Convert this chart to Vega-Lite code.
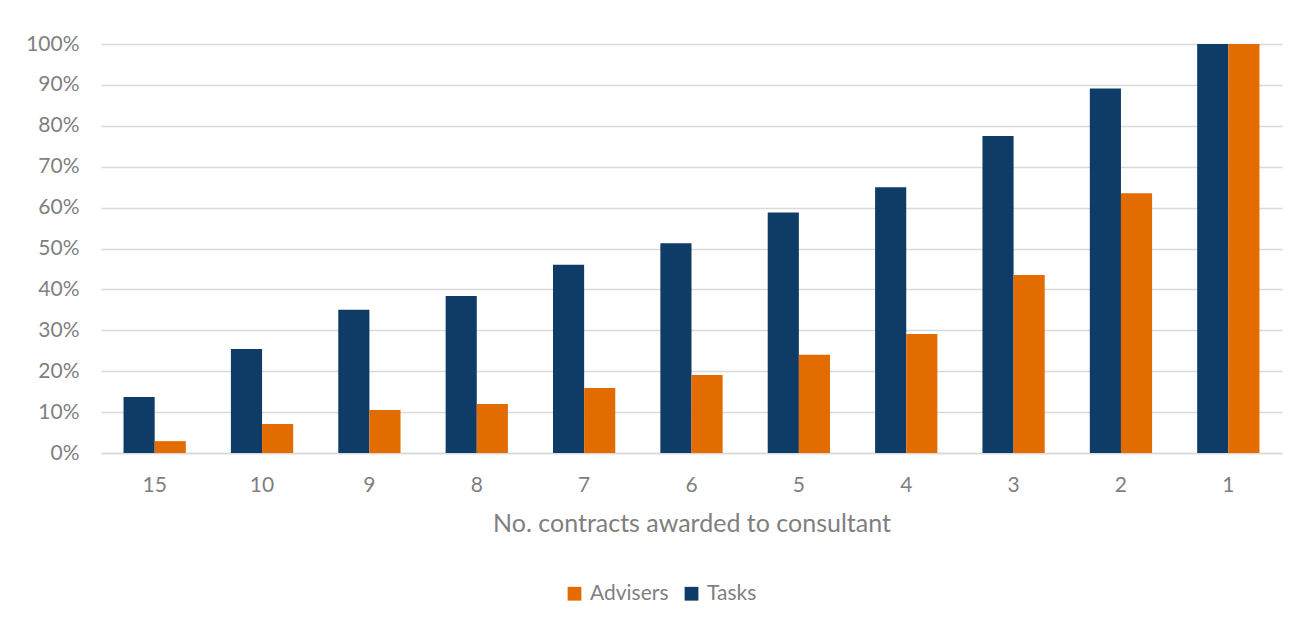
{
  "$schema": "https://vega.github.io/schema/vega-lite/v6.json",
  "width": 1181,
  "height": 409,
  "autosize": {"type": "none"},
  "padding": {"left": 101, "top": 44, "right": 16, "bottom": 172},
  "background": "white",
  "config": {
    "view": {"stroke": null},
    "font": "Lato",
    "axis": {"labelFont": "Lato", "titleFont": "Lato", "labelColor": "#7F7F7F", "titleColor": "#7F7F7F"},
    "legend": {"labelFont": "Lato", "labelColor": "#7F7F7F"}
  },
  "data": {
    "values": [
      {"contracts": "15", "series": "Tasks", "share": 0.137},
      {"contracts": "15", "series": "Advisers", "share": 0.029},
      {"contracts": "10", "series": "Tasks", "share": 0.254},
      {"contracts": "10", "series": "Advisers", "share": 0.071},
      {"contracts": "9", "series": "Tasks", "share": 0.350},
      {"contracts": "9", "series": "Advisers", "share": 0.105},
      {"contracts": "8", "series": "Tasks", "share": 0.384},
      {"contracts": "8", "series": "Advisers", "share": 0.120},
      {"contracts": "7", "series": "Tasks", "share": 0.460},
      {"contracts": "7", "series": "Advisers", "share": 0.159},
      {"contracts": "6", "series": "Tasks", "share": 0.513},
      {"contracts": "6", "series": "Advisers", "share": 0.191},
      {"contracts": "5", "series": "Tasks", "share": 0.588},
      {"contracts": "5", "series": "Advisers", "share": 0.240},
      {"contracts": "4", "series": "Tasks", "share": 0.650},
      {"contracts": "4", "series": "Advisers", "share": 0.291},
      {"contracts": "3", "series": "Tasks", "share": 0.775},
      {"contracts": "3", "series": "Advisers", "share": 0.435},
      {"contracts": "2", "series": "Tasks", "share": 0.891},
      {"contracts": "2", "series": "Advisers", "share": 0.635},
      {"contracts": "1", "series": "Tasks", "share": 1.0},
      {"contracts": "1", "series": "Advisers", "share": 1.0}
    ]
  },
  "mark": {"type": "bar"},
  "encoding": {
    "x": {
      "field": "contracts",
      "type": "nominal",
      "sort": ["15", "10", "9", "8", "7", "6", "5", "4", "3", "2", "1"],
      "scale": {"paddingInner": 0.42, "paddingOuter": 0.21},
      "axis": {
        "title": "No. contracts awarded to consultant",
        "titleFontSize": 25,
        "titleFontWeight": "normal",
        "titlePadding": 16,
        "labelFontSize": 21,
        "labelAngle": 0,
        "labelPadding": 21,
        "ticks": false,
        "domainColor": "#D9D9D9",
        "domainWidth": 1.5
      }
    },
    "xOffset": {"field": "series", "type": "nominal", "sort": ["Tasks", "Advisers"], "scale": {"paddingInner": 0, "paddingOuter": 0}},
    "y": {
      "field": "share",
      "type": "quantitative",
      "scale": {"domain": [0, 1]},
      "axis": {
        "title": null,
        "format": ".0%",
        "values": [0, 0.1, 0.2, 0.3, 0.4, 0.5, 0.6, 0.7, 0.8, 0.9, 1.0],
        "labelOverlap": false,
        "labelFontSize": 21,
        "labelPadding": 22,
        "ticks": false,
        "domain": false,
        "gridColor": "#D9D9D9",
        "gridWidth": 1.5
      }
    },
    "color": {
      "field": "series",
      "type": "nominal",
      "scale": {"domain": ["Advisers", "Tasks"], "range": ["#E36C00", "#0E3C66"]},
      "legend": {
        "title": null,
        "orient": "none",
        "direction": "horizontal",
        "legendX": 463,
        "legendY": 539,
        "labelFontSize": 21,
        "symbolType": "square",
        "symbolSize": 190,
        "symbolStrokeWidth": 0,
        "columnPadding": 12,
        "labelOffset": 5
      }
    }
  }
}
